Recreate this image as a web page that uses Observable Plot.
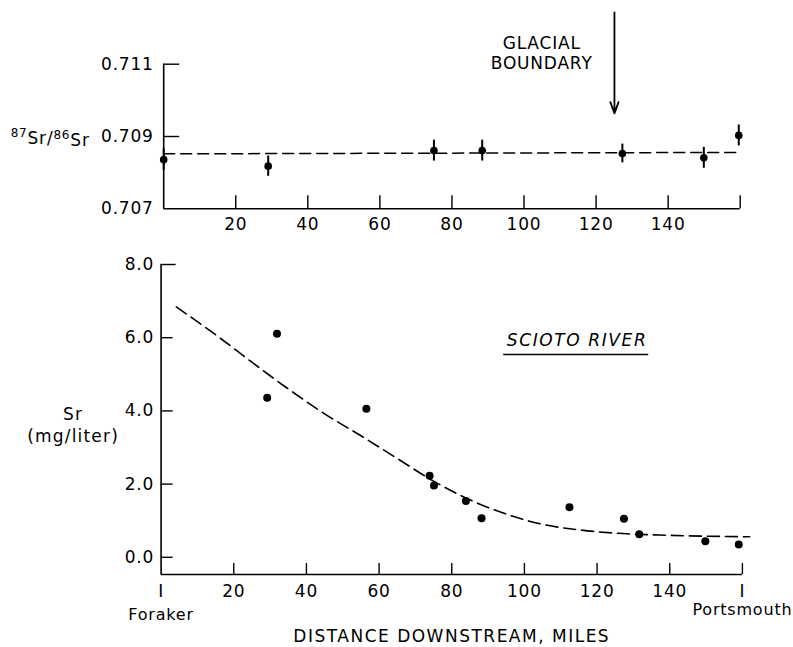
<!DOCTYPE html>
<html><head><meta charset="utf-8">
<script src="https://cdn.jsdelivr.net/npm/d3@7"></script>
<script src="https://cdn.jsdelivr.net/npm/@observablehq/plot@0.6"></script>
<style>
body{margin:0;background:#fff;}
#wrap{position:relative;width:793px;height:647px;background:#fff;}
#topPanel,#bottomPanel{position:absolute;left:0;}
#topPanel{top:0px}
#bottomPanel{top:240px}
#wrap svg text{letter-spacing:0.8px;}
</style></head><body>
<div id="wrap"><div id="topPanel"></div><div id="bottomPanel"></div></div>
<script>
// ---------- top panel: 87Sr/86Sr ----------
const ratioMiles   = [0, 29.0, 75.0, 88.4, 127.3, 149.9, 159.6];
const ratioValues  = [0.70836, 0.70818, 0.70861, 0.70861, 0.70853, 0.70841, 0.70903];
const ratioErrors  = [0.00030, 0.00028, 0.00029, 0.00029, 0.00026, 0.00029, 0.00029];
const ratioFitMiles  = [0, 160];
const ratioFitValues = [0.70852, 0.70856];
const ratioTicks     = [0.707, 0.709, 0.711];
const topMileTicks   = [20, 40, 60, 80, 100, 120, 140];
const topInnerTicks  = [20, 40, 60, 80, 100, 120, 140, 160];
const glacialMile    = [125.1];
const glacialFrom    = [0.71243];
const glacialTo      = [0.70964];
const glacialText    = ["GLACIAL\nBOUNDARY"];
const glacialTextAt  = [104.9];
const glacialTextY   = [0.71133];
const ratioLabel     = "87Sr/86Sr";

// ---------- bottom panel: Sr concentration ----------
const srMiles  = [29.2, 31.9, 56.5, 73.9, 75.1, 83.9, 88.2, 112.4, 127.4, 131.6, 149.8, 159.0];
const srValues = [4.36, 6.11, 4.06, 2.23, 1.96, 1.54, 1.07, 1.37, 1.05, 0.63, 0.44, 0.35];
const srFitMiles  = [4.2, 15, 25, 35, 45, 55, 65, 75, 85, 95, 105, 115, 125, 140, 162];
const srFitValues = [6.84, 6.08, 5.33, 4.60, 3.92, 3.32, 2.70, 2.08, 1.57, 1.18, 0.90, 0.75, 0.66, 0.60, 0.56];
const srTicks       = [0, 2, 4, 6, 8];
const bottomMileTicks = [0, 20, 40, 60, 80, 100, 120, 140, 160];
const bottomInnerTicks = [20, 40, 60, 80, 100, 120, 140, 160];
const endNames  = ["Foraker", "Portsmouth"];
const endMiles  = [0, 160];
const riverName = ["SCIOTO RIVER"];
const riverAt   = [114.5];
const riverY    = [5.92];
const riverLine = {x1: 94.3, x2: 134.2, y: 5.54};
const srLabel   = "Sr\n(mg/liter)";
const srLabelY  = 3.65;
const xTitle    = "DISTANCE DOWNSTREAM, MILES";

const ratioData = ratioMiles.map((m, i) => ({m, v: ratioValues[i], e: ratioErrors[i]}));
const ratioFit  = ratioFitMiles.map((m, i) => ({m, v: ratioFitValues[i]}));
const srData    = srMiles.map((m, i) => ({m, v: srValues[i]}));
const srFit     = srFitMiles.map((m, i) => ({m, v: srFitValues[i]}));

const font = "'DejaVu Sans', sans-serif";

// top geometry
const W = 793;
const tH = 240, tMT = 63.7, tMB = 31.7, tML = 163.2, tMR = 53.3;
const tInnerH = tH - tMT - tMB, tInnerW = W - tML - tMR;

const topChart = Plot.plot({
  width: W, height: tH,
  marginTop: tMT, marginBottom: tMB, marginLeft: tML, marginRight: tMR,
  style: {fontFamily: font, fontSize: "17px", background: "white", color: "black", overflow: "visible"},
  x: {domain: [0, 160]},
  y: {domain: [0.707, 0.711]},
  marks: [
    Plot.ruleY([0.707], {stroke: "black", strokeWidth: 1.6}),
    Plot.ruleX([0], {stroke: "black", strokeWidth: 1.6}),
    Plot.tickX(topInnerTicks, {x: d => d, insetTop: tInnerH - 13, stroke: "black", strokeWidth: 1.4}),
    Plot.tickY(ratioTicks.slice(1), {y: d => d, insetRight: tInnerW - 16, stroke: "black", strokeWidth: 1.4}),
    Plot.axisX(topMileTicks, {tickSize: 0, tickPadding: 9, label: null, fontSize: 17}),
    Plot.axisY(ratioTicks, {tickSize: 0, tickPadding: 10, label: null, tickFormat: d3.format(".3f"), fontSize: 17}),
    Plot.text([ratioLabel], {frameAnchor: "left", y: [0.709], dx: -74, textAnchor: "end", fontSize: 17}),
    Plot.line(ratioFit, {x: "m", y: "v", stroke: "black", strokeWidth: 1.5, strokeDasharray: "11,6"}),
    Plot.ruleX(ratioData, {x: "m", y1: d => d.v - d.e, y2: d => d.v + d.e, stroke: "black", strokeWidth: 2}),
    Plot.dot(ratioData, {x: "m", y: "v", r: 3.8, fill: "black"}),
    Plot.arrow(glacialMile, {x1: d => d, x2: d => d, y1: glacialFrom, y2: glacialTo, stroke: "black", strokeWidth: 1.8, headLength: 10, headAngle: 40}),
    Plot.text(glacialText, {x: glacialTextAt, y: glacialTextY, lineHeight: 1.18, fontSize: 17, lineAnchor: "middle"})
  ]
});
document.getElementById("topPanel").append(topChart);

// bottom geometry
const bH = 407, bMT = 24, bMB = 73, bML = 160.6, bMR = 51.1;
const bInnerH = bH - bMT - bMB, bInnerW = W - bML - bMR;
const yMin = -0.47;

const bottomChart = Plot.plot({
  width: W, height: bH,
  marginTop: bMT, marginBottom: bMB, marginLeft: bML, marginRight: bMR,
  style: {fontFamily: font, fontSize: "17px", background: "white", color: "black", overflow: "visible"},
  x: {domain: [0, 160]},
  y: {domain: [yMin, 8]},
  marks: [
    Plot.ruleY([yMin], {stroke: "black", strokeWidth: 1.6}),
    Plot.ruleX([0], {stroke: "black", strokeWidth: 1.6}),
    Plot.tickX(bottomInnerTicks, {x: d => d, insetTop: bInnerH - 11, stroke: "black", strokeWidth: 1.4}),
    Plot.tickY(srTicks.slice(0, 4), {y: d => d, insetRight: bInnerW - 12, stroke: "black", strokeWidth: 1.4}),
    Plot.tickY(srTicks.slice(4), {y: d => d, insetRight: bInnerW - 15, stroke: "black", strokeWidth: 1.4}),
    Plot.axisX(bottomMileTicks, {tickSize: 0, tickPadding: 10, label: null, fontSize: 17,
      tickFormat: d => (d === 0 || d === 160) ? "I" : String(d)}),
    Plot.axisY(srTicks, {tickSize: 0, tickPadding: 7, label: null, tickFormat: d3.format(".1f"), fontSize: 17}),
    Plot.text(endNames, {x: endMiles, frameAnchor: "bottom", fontSize: 16, lineAnchor: "middle"}),
    Plot.text([xTitle], {frameAnchor: "bottom", dy: 62, fontSize: 17, lineAnchor: "middle"}),
    Plot.text([srLabel], {frameAnchor: "left", y: [srLabelY], dx: -88, textAnchor: "middle", fontSize: 17, lineHeight: 1.3, lineAnchor: "middle"}),
    Plot.line(srFit, {x: "m", y: "v", curve: "monotone-x", stroke: "black", strokeWidth: 1.6, strokeDasharray: "12,6"}),
    Plot.dot(srData, {x: "m", y: "v", r: 4, fill: "black"}),
    Plot.text(riverName, {x: riverAt, y: riverY, fontSize: 17, fontStyle: "italic", lineAnchor: "middle"}),
    Plot.ruleY([riverLine.y], {x1: riverLine.x1, x2: riverLine.x2, stroke: "black", strokeWidth: 1.6})
  ]
});
document.getElementById("bottomPanel").append(bottomChart);

// superscripted isotope label, built from the plain label text
d3.select(topChart).selectAll("text").each(function() {
  if (this.textContent !== ratioLabel) return;
  const el = d3.select(this);
  el.text(null);
  const parts = [["87", true], ["Sr/", false], ["86", true], ["Sr", false]];
  let up = false;
  for (const [s, sup] of parts) {
    const dy = sup && !up ? "-0.45em" : (!sup && up ? "0.45em" : null);
    el.append("tspan").attr("font-size", sup ? 12 : 17).attr("dy", dy).text(s);
    up = sup;
  }
});

d3.select(bottomChart).selectAll("text").each(function() {
  const t = this.textContent;
  if (t === "Foraker") this.setAttribute("transform", (this.getAttribute("transform") || "") + " translate(0,40)");
  if (t === "Portsmouth") this.setAttribute("transform", (this.getAttribute("transform") || "") + " translate(0,35)");
  if (t === xTitle) this.style.letterSpacing = "1.5px";
  if (t === "SCIOTO RIVER") this.style.letterSpacing = "1.6px";
  if (t.startsWith("Sr")) this.style.letterSpacing = "1.2px";
});
</script>
</body></html>
